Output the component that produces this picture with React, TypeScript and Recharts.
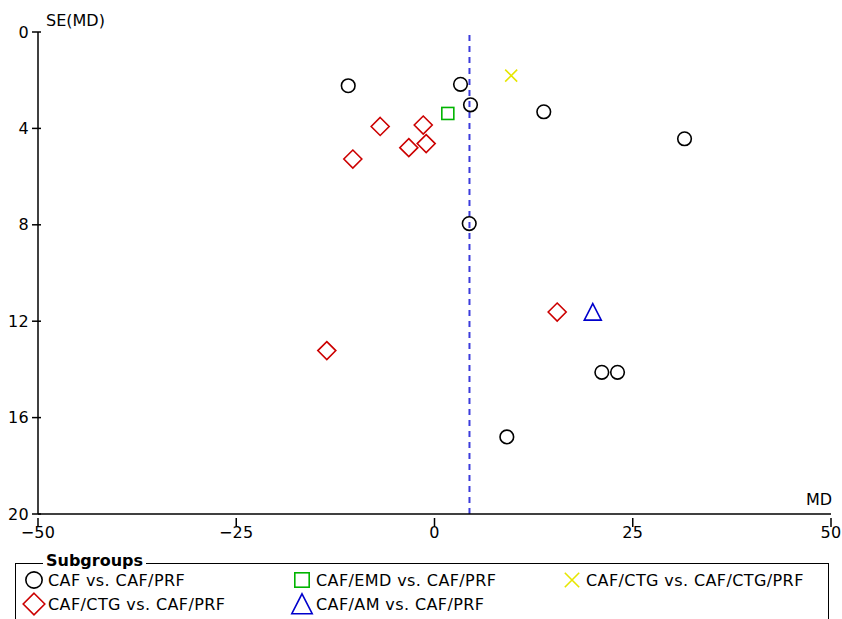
import React from 'react';
import { ScatterChart, Scatter, XAxis, YAxis, ReferenceLine } from 'recharts';

// Funnel plot: MD vs SE(MD), per subgroup
const cafVsCafPrf = [
  { md: -10.88, se: 2.23 },
  { md: 3.28, se: 2.17 },
  { md: 4.54, se: 3.02 },
  { md: 13.78, se: 3.31 },
  { md: 31.53, se: 4.43 },
  { md: 4.38, se: 7.95 },
  { md: 21.1, se: 14.12 },
  { md: 23.08, se: 14.12 },
  { md: 9.12, se: 16.8 },
];
const cafCtgVsCafPrf = [
  { md: -6.85, se: 3.92 },
  { md: -1.42, se: 3.86 },
  { md: -10.3, se: 5.27 },
  { md: -3.24, se: 4.8 },
  { md: -1.05, se: 4.63 },
  { md: 15.47, se: 11.62 },
  { md: -13.58, se: 13.22 },
];
const cafEmdVsCafPrf = [{ md: 1.68, se: 3.38 }];
const cafAmVsCafPrf = [{ md: 19.96, se: 11.62 }];
const cafCtgVsCafCtgPrf = [{ md: 9.67, se: 1.81 }];

const pooledMD = 4.41;
const xTicks = [-50, -25, 0, 25, 50];
const yTicks = [0, 4, 8, 12, 16, 20];

const FONT = '"DejaVu Sans", sans-serif';
const BLACK = '#000000';
const RED = '#cc0000';
const GREEN = '#00b400';
const BLUE = '#0000cc';
const YELLOW = '#e6e600';
const DASH = '#3c3cdc';

const circle = (cx: number, cy: number, s = 1) => (
  <circle cx={cx} cy={cy} r={6.8 * s} fill="none" stroke={BLACK} strokeWidth={1.6} />
);
const diamond = (cx: number, cy: number, s = 1) => {
  const h = 9 * s;
  return <path d={`M${cx},${cy - h}L${cx + h},${cy}L${cx},${cy + h}L${cx - h},${cy}Z`} fill="none" stroke={RED} strokeWidth={1.6} />;
};
const square = (cx: number, cy: number, s = 1) => {
  const h = 6 * s;
  return <rect x={cx - h} y={cy - h} width={2 * h} height={2 * h} fill="none" stroke={GREEN} strokeWidth={1.6} />;
};
const triangle = (cx: number, cy: number, s = 1) => {
  const h = 8.5 * s;
  return <path d={`M${cx},${cy - h}L${cx + h},${cy + h * 0.95}L${cx - h},${cy + h * 0.95}Z`} fill="none" stroke={BLUE} strokeWidth={1.6} />;
};
const cross = (cx: number, cy: number, s = 1) => {
  const h = 6 * s;
  return <path d={`M${cx - h},${cy - h}L${cx + h},${cy + h}M${cx + h},${cy - h}L${cx - h},${cy + h}`} fill="none" stroke={YELLOW} strokeWidth={1.6} />;
};

const fmt = (v: number) => String(v).replace('-', '\u2212');

const YTick = (props: any) => {
  const { x, y, payload } = props;
  return (
    <g>
      <line x1={x + 2} x2={x + 11} y1={y} y2={y} stroke={BLACK} strokeWidth={1.5} />
      <text x={x - 1} y={y} dy="0.35em" textAnchor="end" fontSize={16} fontFamily={FONT} fill={BLACK} letterSpacing={0.3}>
        {fmt(payload.value)}
      </text>
    </g>
  );
};

const XTick = (props: any) => {
  const { x, y, payload } = props;
  return (
    <g>
      <line x1={x} x2={x} y1={y - 4} y2={y + 5} stroke={BLACK} strokeWidth={1.5} />
      <text x={x} y={y + 16} textAnchor="middle" fontSize={16} fontFamily={FONT} fill={BLACK} letterSpacing={0.3}>
        {fmt(payload.value)}
      </text>
    </g>
  );
};

const legendItems = [
  { label: 'CAF vs. CAF/PRF', mark: circle, left: 22, top: 0 },
  { label: 'CAF/EMD vs. CAF/PRF', mark: square, left: 290, top: 0 },
  { label: 'CAF/CTG vs. CAF/CTG/PRF', mark: cross, left: 560, top: 0 },
  { label: 'CAF/CTG vs. CAF/PRF', mark: diamond, left: 22, top: 24 },
  { label: 'CAF/AM vs. CAF/PRF', mark: triangle, left: 290, top: 24 },
];

export default function App() {
  return (
    <div style={{ position: 'absolute', left: 0, top: 0, width: 842, height: 619, background: '#fff', overflow: 'hidden' }}>
      <ScatterChart width={842} height={619} margin={{ top: 32, right: 11, bottom: 75, left: 0 }}>
        <XAxis
          type="number"
          dataKey="md"
          domain={[-50, 50]}
          ticks={xTicks}
          allowDataOverflow
          height={30}
          tickLine={false}
          axisLine={{ stroke: BLACK, strokeWidth: 1.5 }}
          tick={<XTick />}
          label={{
            content: (p: any) => (
              <text x={p.viewBox.x + p.viewBox.width + 1} y={p.viewBox.y - 9} textAnchor="end" fontSize={16} fontFamily={FONT} fill={BLACK}>
                MD
              </text>
            ),
          }}
        />
        <YAxis
          type="number"
          dataKey="se"
          domain={[0, 20]}
          ticks={yTicks}
          reversed
          allowDataOverflow
          width={38}
          tickLine={false}
          axisLine={{ stroke: BLACK, strokeWidth: 1.5 }}
          tick={<YTick />}
          label={{
            content: (p: any) => (
              <text x={p.viewBox.x + p.viewBox.width + 8} y={p.viewBox.y - 6} fontSize={16} fontFamily={FONT} fill={BLACK}>
                SE(MD)
              </text>
            ),
          }}
        />
        <ReferenceLine x={pooledMD} stroke={DASH} strokeWidth={2} strokeDasharray="6 5" ifOverflow="hidden" />
        <Scatter data={cafVsCafPrf} isAnimationActive={false} shape={(p: any) => circle(p.cx, p.cy)} />
        <Scatter data={cafCtgVsCafPrf} isAnimationActive={false} shape={(p: any) => diamond(p.cx, p.cy)} />
        <Scatter data={cafEmdVsCafPrf} isAnimationActive={false} shape={(p: any) => square(p.cx, p.cy)} />
        <Scatter data={cafAmVsCafPrf} isAnimationActive={false} shape={(p: any) => triangle(p.cx, p.cy)} />
        <Scatter data={cafCtgVsCafCtgPrf} isAnimationActive={false} shape={(p: any) => cross(p.cx, p.cy)} />
      </ScatterChart>

      {/* legend box */}
      <div
        style={{
          position: 'absolute',
          left: 15,
          top: 563,
          width: 814,
          height: 80,
          border: '1.5px solid #000',
          boxSizing: 'border-box',
          fontFamily: FONT,
          fontSize: 16,
          letterSpacing: 0.4,
        }}
      >
        <div
          style={{
            position: 'absolute',
            left: 27,
            top: -13,
            padding: '0 3px',
            background: '#fff',
            fontWeight: 'bold',
            lineHeight: '20px',
            letterSpacing: 0,
          }}
        >
          Subgroups
        </div>
        {legendItems.map((it) => (
          <div key={it.label} style={{ position: 'absolute', left: it.left - 16, top: 5 + it.top, height: 22, display: 'flex', alignItems: 'center', whiteSpace: 'nowrap' }}>
            <svg width={24} height={24} style={{ marginRight: 2 }}>
              {it.mark(12, 12, 1.2)}
            </svg>
            <span>{it.label}</span>
          </div>
        ))}
      </div>
    </div>
  );
}
